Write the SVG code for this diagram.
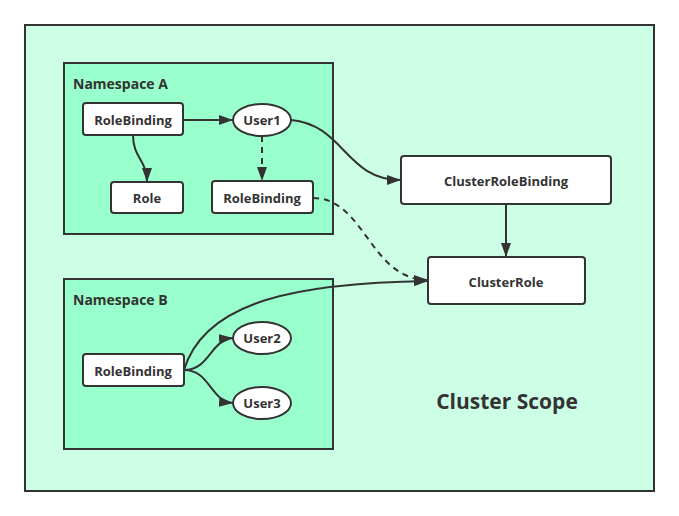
<svg xmlns="http://www.w3.org/2000/svg" width="679" height="516" viewBox="0 0 679 516">
<defs>
<marker id="arr" viewBox="0 0 14 10" refX="14" refY="5" markerWidth="14" markerHeight="10" markerUnits="userSpaceOnUse" orient="auto">
<path d="M0,0 L14,5 L0,10 Z" fill="#333"/>
</marker>
<style>
.box{fill:#fff;stroke:#333;stroke-width:2}
.ns{fill:#99ffcc;stroke:#333;stroke-width:2}
.t{font-family:"Open Sans","Noto Sans","Liberation Sans",sans-serif;font-weight:bold;font-size:13px;fill:#333;text-anchor:middle;dominant-baseline:central}
.h{font-family:"Open Sans","Noto Sans","Liberation Sans",sans-serif;font-weight:bold;font-size:14px;fill:#333}
.c{fill:none;stroke:#333;stroke-width:2;marker-end:url(#arr)}
.d{stroke-dasharray:6,5}
</style>
</defs>
<rect width="679" height="516" fill="#fff"/>
<g id="cluster">
<rect x="25" y="25" width="629" height="466" fill="#ccffe6" stroke="#333" stroke-width="2"/>
<text x="507" y="401" class="t" style="font-size:21px">Cluster Scope</text>
</g>
<g id="nsA">
<rect x="64" y="63" width="269" height="171" class="ns"/>
<text x="73" y="89" class="h">Namespace A</text>
</g>
<g id="nsB">
<rect x="64" y="279" width="269" height="170" class="ns"/>
<text x="73" y="305" class="h">Namespace B</text>
</g>
<g id="connectors">
<path class="c" d="M183,120 L233,120"/>
<path class="c" d="M133,135 C133,158 147,160 147,182"/>
<path class="c d" d="M262,136 L262,181"/>
<path class="c" d="M291,120 C345,125 345,180 401,180"/>
<path class="c d" d="M313,198 C365,198 370,280 428,280"/>
<path class="c" d="M506,204 L506,257"/>
<path class="c" d="M184,370 C205,300 300,283 428,281"/>
<path class="c" d="M184,370 C210,370 210,340 233,338"/>
<path class="c" d="M184,370 C210,370 210,401 233,403"/>
</g>
<g id="rbA"><rect x="83" y="103" width="100" height="32" rx="3" class="box"/><text x="133" y="120" class="t">RoleBinding</text></g>
<g id="user1"><ellipse cx="262" cy="120" rx="29" ry="16" class="box"/><text x="262" y="120" class="t">User1</text></g>
<g id="role"><rect x="111" y="182" width="72" height="31" rx="3" class="box"/><text x="147" y="198" class="t">Role</text></g>
<g id="rbA2"><rect x="212" y="181" width="101" height="32" rx="3" class="box"/><text x="262" y="198" class="t">RoleBinding</text></g>
<g id="crb"><rect x="401" y="156" width="210" height="48" rx="3" class="box"/><text x="506" y="181" class="t">ClusterRoleBinding</text></g>
<g id="cr"><rect x="428" y="257" width="157" height="47" rx="3" class="box"/><text x="506" y="282" class="t">ClusterRole</text></g>
<g id="rbB"><rect x="83" y="354" width="101" height="32" rx="3" class="box"/><text x="133" y="371" class="t">RoleBinding</text></g>
<g id="user2"><ellipse cx="262" cy="338" rx="29" ry="16" class="box"/><text x="262" y="338" class="t">User2</text></g>
<g id="user3"><ellipse cx="262" cy="403" rx="29" ry="16" class="box"/><text x="262" y="403" class="t">User3</text></g>
</svg>
